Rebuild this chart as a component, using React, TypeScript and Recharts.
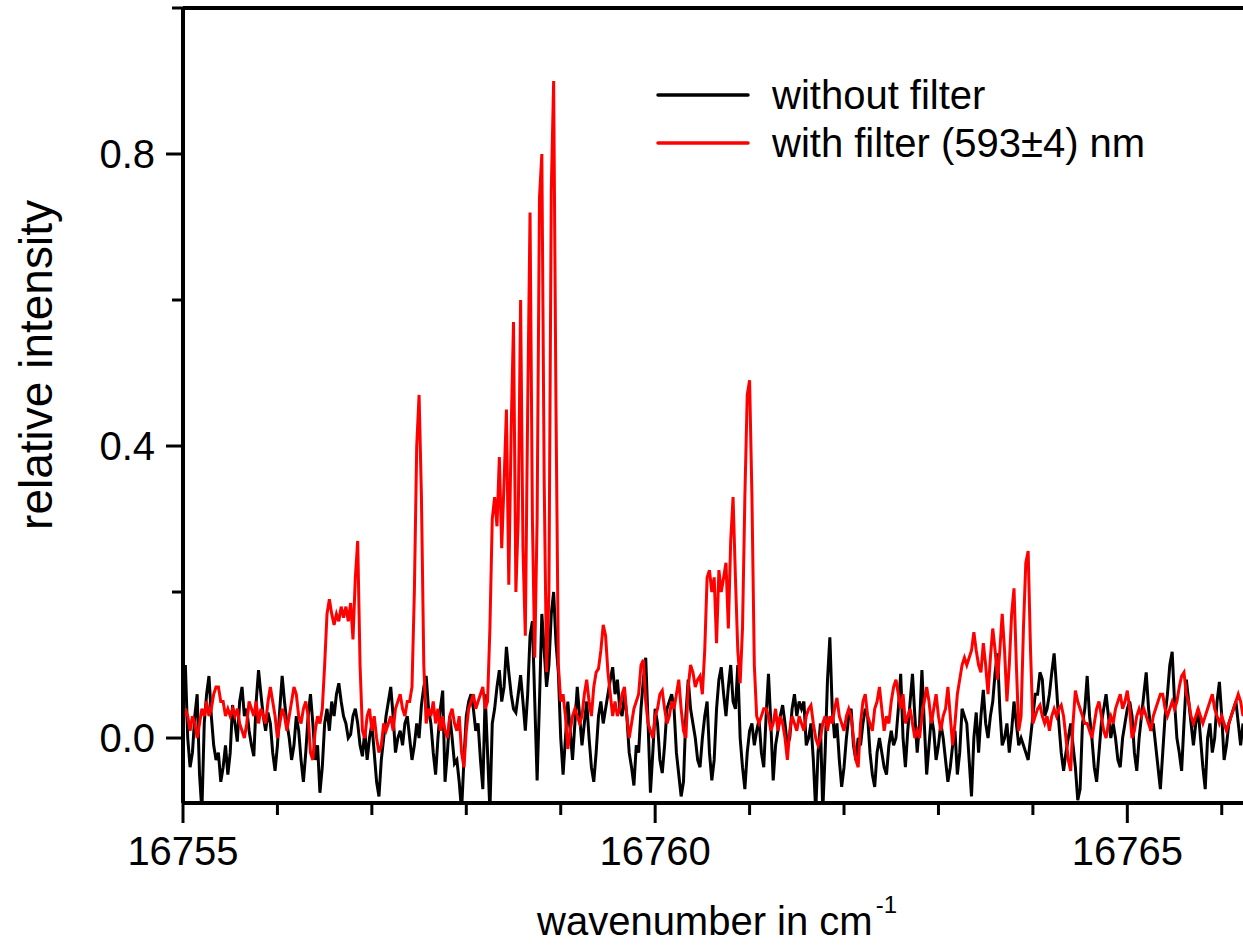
import { LineChart, Line, XAxis, YAxis, Legend, ReferenceLine } from 'recharts';

const FONT = '"Liberation Sans", Arial, sans-serif';

// spectrum sampled from 16755 cm-1 in steps of 0.025 cm-1
const START = 16755;
const STEP = 0.025;

const withoutFilter = [
  0.06, 0.10, 0.0, -0.04, -0.02, 0.03, 0.06, -0.05, -0.10, 0.02,
  0.06, 0.085, 0.03, -0.01, -0.03, -0.02, -0.06, -0.04, -0.01, -0.05,
  -0.02, 0.045, 0.02, -0.005, 0.05, 0.07, 0.03, 0.04, 0.01, -0.01,
  -0.025, 0.05, 0.093, 0.06, 0.03, 0.01, 0.035, 0.02, -0.02, -0.045,
  -0.01, 0.04, 0.085, 0.05, 0.02, 0.0, -0.03, -0.01, 0.03, 0.01,
  -0.03, -0.06, -0.02, 0.03, 0.06, 0.02, -0.03, -0.01, -0.075, -0.04,
  0.02, 0.04, 0.01, 0.05, 0.03, 0.06, 0.075, 0.05, 0.03, 0.02,
  0.0, 0.005, 0.03, 0.04, 0.02, -0.01, -0.025, 0.01, -0.03, 0.0,
  0.02, -0.02, -0.06, -0.08, -0.03, 0.0, 0.03, 0.05, 0.07, 0.03,
  -0.02, 0.0, 0.01, -0.01, 0.02, 0.03, 0.0, -0.03, -0.01, 0.02,
  0.0, 0.045, 0.07, 0.085, 0.04, 0.02, -0.02, -0.05, 0.0, 0.04,
  0.065, -0.06, -0.02, 0.03, 0.0, -0.035, -0.03, -0.06, -0.10, -0.03,
  0.03, 0.05, 0.06, 0.04, 0.01, 0.02, -0.03, -0.07, 0.06, -0.02,
  -0.10, 0.02, 0.04, 0.07, 0.093, 0.05, 0.07, 0.125, 0.09, 0.06,
  0.04, 0.035, 0.06, 0.086, 0.05, 0.01, 0.06, 0.14, 0.16, 0.05,
  -0.058, 0.05, 0.17, 0.12, 0.07, 0.10, 0.17, 0.20, 0.13, 0.09,
  0.0, -0.05, 0.0, 0.05, 0.01, -0.03, 0.02, 0.07, 0.03, -0.01,
  0.02, 0.05, 0.0, -0.04, -0.06, -0.02, 0.03, 0.05, 0.02, 0.04,
  0.06, 0.08, 0.097, 0.06, 0.08, 0.04, 0.03, 0.06, 0.03, -0.02,
  -0.04, -0.065, -0.01, -0.02, 0.04, 0.08, 0.11, 0.02, -0.075, -0.02,
  0.04, 0.02, -0.03, -0.048, -0.01, 0.04, 0.05, 0.06, 0.04, -0.02,
  -0.05, -0.08, -0.06, 0.03, 0.08, 0.04, 0.02, 0.0, -0.03, -0.04,
  0.0, 0.03, 0.05, -0.02, -0.058, -0.03, 0.04, 0.08, 0.097, 0.06,
  0.03, 0.07, 0.10, 0.05, 0.04, 0.10, 0.0, -0.04, -0.07, -0.02,
  0.01, 0.02, -0.01, 0.01, 0.025, -0.02, -0.04, 0.03, 0.088, 0.02,
  -0.058, -0.01, 0.01, 0.03, 0.045, 0.02, -0.01, 0.0, 0.04, 0.06,
  0.03, 0.05, 0.04, 0.05, -0.01, 0.0, 0.02, -0.03, -0.10, -0.02,
  0.02, -0.10, -0.02, 0.08, 0.138, 0.04, 0.0, 0.02, -0.03, -0.067,
  -0.04, 0.0, 0.03, 0.04, -0.01, -0.03, 0.0, -0.01, 0.02, 0.04,
  0.03, -0.02, -0.05, -0.067, -0.02, 0.0, -0.02, -0.04, -0.05, -0.01,
  0.01, -0.01, 0.0, 0.04, 0.088, 0.0, -0.04, 0.01, 0.05, 0.088,
  0.03, -0.02, 0.02, 0.093, 0.02, -0.05, -0.01, 0.03, 0.01, -0.03,
  -0.01, 0.02, 0.0, -0.03, -0.06, -0.04, -0.01, 0.01, -0.05, -0.02,
  0.04, 0.03, 0.02, -0.03, -0.08, 0.0, 0.035, -0.02, 0.03, 0.066,
  0.02, 0.0, 0.03, 0.05, 0.09, 0.116, 0.04, -0.01, 0.0, 0.02,
  -0.02, 0.01, 0.05, 0.02, -0.01, 0.0, -0.01, -0.02, -0.03, 0.0,
  0.03, 0.06, 0.06, 0.09, 0.08, 0.03, 0.04, 0.06, 0.09, 0.116,
  0.07, 0.02, -0.02, -0.045, -0.02, 0.0, 0.02, -0.01, -0.04, -0.085,
  -0.07, 0.02, 0.04, 0.085, 0.03, 0.0, -0.04, -0.06, -0.02, 0.02,
  0.04, 0.06, 0.03, 0.0, 0.02, 0.0, -0.03, -0.04, 0.0, 0.02,
  0.04, 0.05, 0.03, -0.02, -0.045, 0.0, 0.03, 0.06, 0.09, 0.04,
  0.01, 0.02, -0.01, -0.04, -0.07, -0.02, 0.03, 0.06, 0.10, 0.118,
  0.05, 0.0, -0.02, -0.045, 0.02, 0.08, 0.05, 0.02, -0.01, 0.02,
  0.04, 0.0, -0.04, -0.07, 0.0, 0.02, -0.02, 0.0, 0.05, 0.077,
  0.03, -0.03, -0.01, 0.02, 0.03, 0.04, 0.05, 0.02, -0.01, 0.02,
];

const withFilter = [
  0.02, 0.04, 0.03, 0.01, 0.03, 0.02, 0.0, 0.02, 0.04, 0.03,
  0.05, 0.03, 0.04, 0.06, 0.07, 0.07, 0.05, 0.05, 0.03, 0.04,
  0.03, 0.04, 0.03, 0.04, 0.02, 0.01, 0.0, 0.02, 0.05, 0.04,
  0.03, 0.05, 0.02, 0.04, 0.03, 0.02, 0.05, 0.07, 0.05, 0.03,
  0.0, 0.02, 0.04, 0.03, 0.01, 0.03, 0.05, 0.07, 0.06, 0.03,
  0.02, 0.04, 0.05, 0.03, -0.02, -0.03, 0.01, 0.03, 0.02, 0.04,
  0.10, 0.17, 0.19, 0.17, 0.155, 0.17, 0.16, 0.18, 0.165, 0.18,
  0.16, 0.185, 0.135, 0.22, 0.27, 0.10, 0.01, 0.0, 0.03, 0.04,
  0.01, 0.03, 0.0, -0.02, -0.01, 0.02, 0.01, 0.02, 0.03, 0.01,
  0.04, 0.05, 0.06, 0.04, 0.03, 0.05, 0.05, 0.07, 0.20, 0.40,
  0.47, 0.33, 0.10, 0.02, 0.04, 0.03, 0.05, 0.02, 0.04, 0.01,
  0.03, 0.01, 0.0, 0.03, 0.04, 0.02, 0.01, 0.03, -0.02, -0.04,
  0.01, 0.04, 0.05, 0.06, 0.04, 0.05, 0.06, 0.07, 0.04, 0.05,
  0.15, 0.30, 0.33, 0.29, 0.385, 0.26, 0.35, 0.45, 0.21, 0.42,
  0.57, 0.20, 0.30, 0.60, 0.26, 0.14, 0.45, 0.72, 0.30, 0.11,
  0.30, 0.74, 0.80, 0.35, 0.09, 0.20, 0.75, 0.90, 0.45, 0.10,
  0.05, 0.06, 0.03, -0.015, 0.01, 0.03, 0.04, 0.03, 0.02, 0.03,
  0.06, 0.08, 0.05, 0.03, 0.07, 0.09, 0.095, 0.12, 0.155, 0.14,
  0.09, 0.06, 0.03, 0.05, 0.03, 0.04, 0.06, 0.07, 0.03, 0.0,
  0.02, 0.04, 0.05, 0.06, 0.10, 0.107, 0.05, 0.02, 0.01, 0.0,
  0.03, 0.04, 0.06, 0.065, 0.04, 0.02, 0.03, 0.05, 0.04, 0.06,
  0.08, 0.04, 0.01, 0.0, 0.07, 0.10, 0.09, 0.07, 0.08, 0.085,
  0.06, 0.12, 0.22, 0.23, 0.20, 0.22, 0.13, 0.23, 0.20, 0.22,
  0.24, 0.15, 0.27, 0.33, 0.22, 0.12, 0.075, 0.15, 0.33, 0.47,
  0.49, 0.33, 0.10, 0.03, 0.02, 0.03, 0.04, 0.04, 0.03, 0.01,
  0.02, 0.04, 0.01, 0.03, 0.02, 0.0, -0.03, 0.01, 0.03, 0.02,
  0.01, 0.03, 0.02, 0.01, 0.03, 0.04, 0.045, 0.02, 0.0, -0.01,
  0.0, 0.02, 0.03, 0.01, 0.03, 0.02, 0.04, 0.055, 0.03, 0.02,
  0.01, 0.03, 0.04, 0.03, 0.0, -0.03, -0.04, 0.02, 0.05, 0.06,
  0.03, 0.02, 0.01, 0.04, 0.05, 0.07, 0.04, 0.01, 0.03, 0.02,
  0.05, 0.07, 0.08, 0.06, 0.04, 0.06, 0.02, 0.03, 0.04, 0.02,
  0.0, 0.01, 0.0, 0.03, 0.05, 0.07, 0.05, 0.02, 0.04, 0.06,
  0.03, 0.01, 0.03, 0.04, 0.07, 0.03, -0.01, 0.02, 0.06, 0.08,
  0.10, 0.11, 0.10, 0.11, 0.12, 0.145, 0.12, 0.10, 0.09, 0.13,
  0.10, 0.06, 0.11, 0.15, 0.12, 0.08, 0.12, 0.17, 0.12, 0.05,
  0.10, 0.17, 0.205, 0.10, 0.01, 0.03, 0.15, 0.24, 0.256, 0.12,
  0.02, 0.03, 0.04, 0.045, 0.03, 0.02, 0.03, 0.01, 0.03, 0.04,
  0.03, 0.04, 0.045, 0.03, 0.0, -0.03, -0.045, 0.02, 0.065, 0.05,
  0.04, 0.03, 0.02, 0.02, 0.01, 0.0, 0.02, 0.04, 0.05, 0.03,
  0.01, 0.0, 0.02, 0.03, 0.02, 0.04, 0.05, 0.06, 0.04, 0.05,
  0.065, 0.04, 0.0, 0.01, 0.03, 0.04, 0.03, 0.04, 0.03, 0.02,
  0.01, 0.03, 0.04, 0.05, 0.06, 0.06, 0.04, 0.03, 0.04, 0.05,
  0.04, 0.05, 0.07, 0.085, 0.09, 0.06, 0.05, 0.03, 0.02, 0.03,
  0.04, 0.03, 0.02, 0.03, 0.04, 0.05, 0.06, 0.04, 0.03, 0.02,
  0.03, 0.02, 0.01, 0.02, 0.03, 0.04, 0.05, 0.06, 0.05, 0.03,
];

const xTicks = [16755, 16756, 16757, 16758, 16759, 16760, 16761, 16762, 16763, 16764, 16765, 16766];
const xLabelled = [16755, 16760, 16765];
const yTicks = [0, 0.2, 0.4, 0.6, 0.8, 1];
const yLabelled = [0, 0.4, 0.8];
const legendOrder = ['without filter', 'with filter (593±4) nm'];

const data = withoutFilter.map((v, i) => ({
  x: Math.round((START + i * STEP) * 1000) / 1000,
  black: v,
  red: withFilter[i],
}));

const XTick = (props: any) => {
  const { x, y, payload } = props;
  const major = xLabelled.includes(payload.value);
  return (
    <g>
      <line x1={x} y1={y} x2={x} y2={y + (major ? 20 : 12)} stroke="#000" strokeWidth={3} />
      {major && (
        <text x={x} y={y + 62} textAnchor="middle" fontSize={40} fontFamily={FONT} fill="#000">
          {payload.value}
        </text>
      )}
    </g>
  );
};

const YTick = (props: any) => {
  const { x, y, payload } = props;
  const major = yLabelled.includes(payload.value);
  return (
    <g>
      <line x1={x - (major ? 17 : 11)} y1={y} x2={x} y2={y} stroke="#000" strokeWidth={3} />
      {major && (
        <text x={x - 28} y={y + 14} textAnchor="end" fontSize={40} fontFamily={FONT} fill="#000">
          {payload.value.toFixed(1)}
        </text>
      )}
    </g>
  );
};

const YTitle = () => (
  <text x={52} y={365} transform="rotate(-90 52 365)" textAnchor="middle" fontSize={46} fontFamily={FONT} fill="#000">
    relative intensity
  </text>
);

const XTitle = () => (
  <text x={537} y={935} fontSize={40} fontFamily={FONT} fill="#000">
    <tspan>wavenumber in cm</tspan>
    <tspan dx={3} dy={-22} fontSize={24}>-1</tspan>
  </text>
);

const LegendContent = (props: any) => {
  const items = [...(props.payload || [])].sort(
    (a: any, b: any) => legendOrder.indexOf(a.value) - legendOrder.indexOf(b.value),
  );
  return (
    <div style={{ fontFamily: FONT, fontSize: 40, color: '#000' }}>
      {items.map((entry: any) => (
        <div key={entry.value} style={{ display: 'flex', alignItems: 'center', height: 48 }}>
          <svg width={94} height={8} style={{ display: 'block' }}>
            <line x1={2} y1={4} x2={92} y2={4} stroke={entry.color} strokeWidth={3.5} strokeLinecap="round" />
          </svg>
          <span style={{ marginLeft: 22, lineHeight: '48px', whiteSpace: 'nowrap' }}>{entry.value}</span>
        </div>
      ))}
    </div>
  );
};

export default function App() {
  return (
    <div style={{ position: 'absolute', left: 0, top: 0, background: '#fff' }}>
      <LineChart width={1243} height={945} data={data} margin={{ top: 8, right: 0, bottom: 0, left: 0 }}>
        <XAxis
          dataKey="x"
          type="number"
          domain={[16755, 16766.225]}
          allowDataOverflow
          ticks={xTicks}
          interval={0}
          tickSize={0}
          tickMargin={0}
          tickLine={false}
          tick={XTick}
          axisLine={{ stroke: '#000', strokeWidth: 4 }}
          height={142}
          label={<XTitle />}
        />
        <YAxis
          type="number"
          domain={[-0.089, 1]}
          allowDataOverflow
          ticks={yTicks}
          interval={0}
          tickSize={0}
          tickMargin={0}
          tickLine={false}
          tick={YTick}
          axisLine={{ stroke: '#000', strokeWidth: 4 }}
          width={183}
          label={<YTitle />}
        />
        <ReferenceLine y={1} stroke="#000" strokeWidth={4} />
        <Legend
          layout="horizontal"
          verticalAlign="middle"
          align="center"
          content={LegendContent}
          wrapperStyle={{ left: 656, top: 71, width: 560 }}
        />
        <Line
          name="without filter"
          dataKey="black"
          type="linear"
          stroke="#000000"
          strokeWidth={3}
          dot={false}
          isAnimationActive={false}
        />
        <Line
          name="with filter (593±4) nm"
          dataKey="red"
          type="linear"
          stroke="#ff0000"
          strokeWidth={3}
          dot={false}
          isAnimationActive={false}
        />
      </LineChart>
    </div>
  );
}
